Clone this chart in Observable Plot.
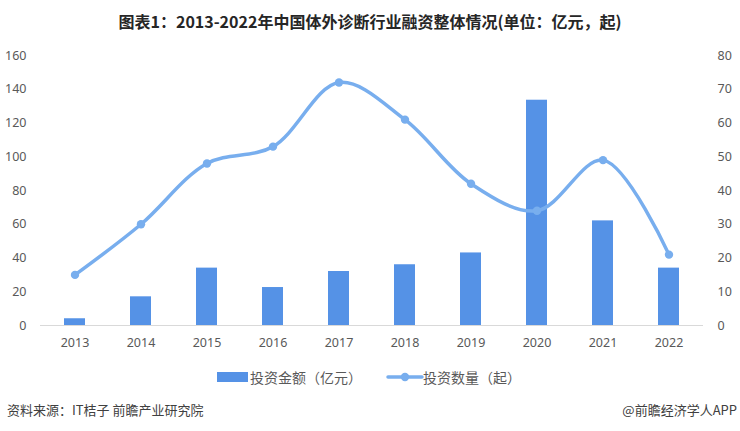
<!DOCTYPE html>
<html>
<head>
<meta charset="utf-8">
<script src="https://cdn.jsdelivr.net/npm/d3@7"></script>
<script src="https://cdn.jsdelivr.net/npm/@observablehq/plot@0.6"></script>
<style>
  html, body { margin: 0; padding: 0; background: #fff; }
  #wrap { position: relative; width: 740px; height: 431px; overflow: hidden; font-family: "Noto Sans CJK SC", "Noto Sans", sans-serif; color: #595959; }
  #title { position: absolute; left: 0; width: 740px; top: 9px; text-align: center; font-size: 16px; font-weight: bold; color: #262626; }
  .leg { position: absolute; font-size: 14px; color: #595959; line-height: 18px; }
  .foot { position: absolute; top: 401px; font-size: 13px; color: #404040; line-height: 18px; }
  #chart { position: absolute; left: 0; top: 0; }
</style>
</head>
<body>
<div id="wrap">
  <div id="chart"></div>
  <div id="title">图表1：2013-2022年中国体外诊断行业融资整体情况(单位：亿元，起)</div>
  <div id="legend"></div>
  <div class="foot" style="left:7px;">资料来源：IT桔子 前瞻产业研究院</div>
  <div class="foot" style="right:3px;">@前瞻经济学人APP</div>
</div>
<script>
const years = ["2013","2014","2015","2016","2017","2018","2019","2020","2021","2022"];
const amounts = [4, 17, 34, 22.5, 32, 36, 43, 133.5, 62, 34];   // 投资金额（亿元）
const counts = [15, 30, 48, 53, 72, 61, 42, 34, 49, 21];        // 投资数量（起）
const leftTicks = [0, 20, 40, 60, 80, 100, 120, 140, 160];
const rightTicks = [0, 10, 20, 30, 40, 50, 60, 70, 80];
const seriesNames = ["投资金额（亿元）", "投资数量（起）"];

const barColor = "#5592e6";
const lineColor = "#78aeee";

const data = years.map((y, i) => ({year: y, amount: amounts[i], count: counts[i], count2: counts[i] * 2}));

const chart = Plot.plot({
  width: 740,
  height: 431,
  marginTop: 55,
  marginBottom: 106,
  marginLeft: 40,
  marginRight: 37,
  style: {fontFamily: "'Noto Sans', 'Noto Sans CJK SC', sans-serif", fontSize: "12.5px", color: "#595959", background: "transparent"},
  x: {domain: years, paddingInner: 0.68, paddingOuter: 0.34},
  y: {domain: [0, 160]},
  marks: [
    Plot.axisY({ticks: leftTicks, tickSize: 0, tickPadding: 14, label: null, anchor: "left"}),
    Plot.axisY({ticks: leftTicks, tickSize: 0, tickPadding: 14, label: null, anchor: "right",
      tickFormat: (d) => String(rightTicks[leftTicks.indexOf(d)])}),
    Plot.axisX({tickSize: 0, tickPadding: 13, label: null}),
    Plot.barY(data, {x: "year", y: "amount", fill: barColor}),
    Plot.ruleY([0], {stroke: "#d9d9d9", strokeWidth: 1}),
    Plot.line(data, {x: "year", y: "count2", stroke: lineColor, strokeWidth: 3.5, curve: "catmull-rom"}),
    Plot.dot(data, {x: "year", y: "count2", r: 4.2, fill: lineColor, stroke: "none"})
  ]
});
document.getElementById("chart").appendChild(chart);

// legend
const legend = document.getElementById("legend");
legend.innerHTML = `
  <div style="position:absolute;left:217px;top:372px;width:31px;height:10px;background:${barColor}"></div>
  <div class="leg" style="left:250px;top:368px;">${seriesNames[0]}</div>
  <svg style="position:absolute;left:386px;top:369px;" width="38" height="16">
    <line x1="2" y1="8" x2="36" y2="8" stroke="${lineColor}" stroke-width="3.5" stroke-linecap="round"/>
    <circle cx="19" cy="8" r="4.2" fill="${lineColor}"/>
  </svg>
  <div class="leg" style="left:423px;top:368px;">${seriesNames[1]}</div>
`;
</script>
</body>
</html>
